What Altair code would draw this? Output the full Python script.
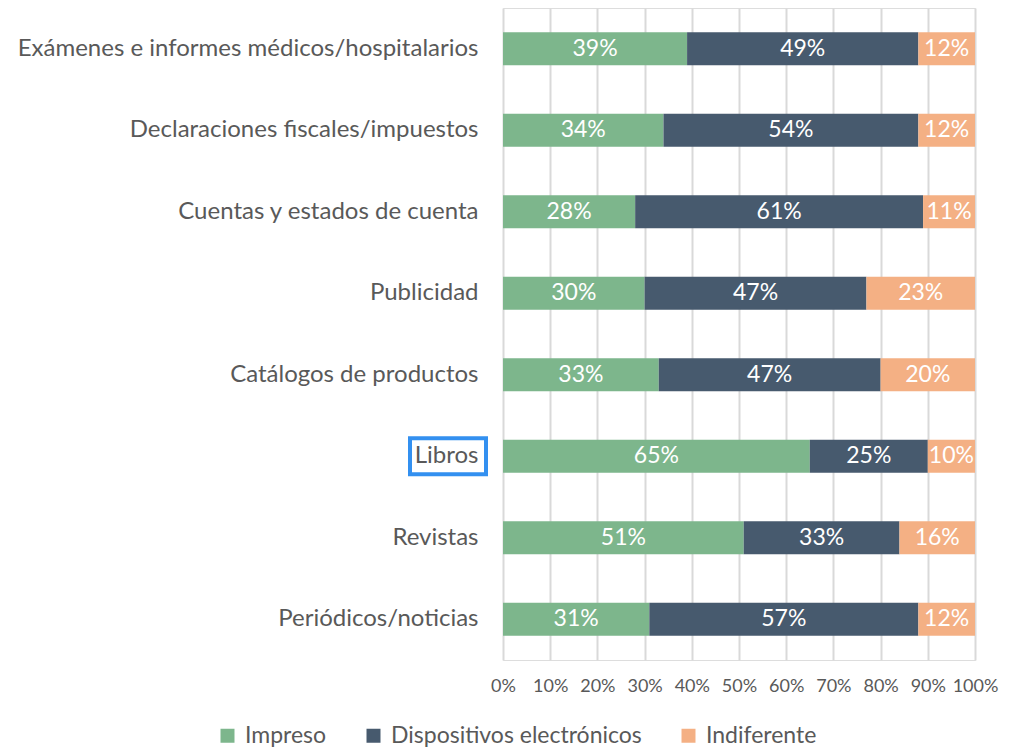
import altair as alt
import pandas as pd

categories = [
    "Exámenes e informes médicos/hospitalarios",
    "Declaraciones fiscales/impuestos",
    "Cuentas y estados de cuenta",
    "Publicidad ",
    "Catálogos de productos",
    "Libros",
    "Revistas",
    "Periódicos/noticias",
]
series = ["Impreso", "Dispositivos electrónicos", "Indiferente"]
impreso = [39, 34, 28, 30, 33, 65, 51, 31]
dispositivos = [49, 54, 61, 47, 47, 25, 33, 57]
indiferente = [12, 12, 11, 23, 20, 10, 16, 12]
colors = ["#7DB68C", "#475A6E", "#F4B084"]
highlight = "Libros"

rows = []
for i, c in enumerate(categories):
    for j, (s, vals) in enumerate(zip(series, [impreso, dispositivos, indiferente])):
        rows.append({"cat": c, "serie": s, "ord": j, "val": vals[i] / 100})
df = pd.DataFrame(rows)

FONT = "Lato"
GRAY = "#595959"

y_enc = alt.Y(
    "cat:N",
    sort=categories,
    scale=alt.Scale(paddingInner=0, paddingOuter=0),
    axis=alt.Axis(
        title=None, domain=False, ticks=False, labelPadding=25,
        labelFontSize=24, labelColor=GRAY, labelFont=FONT, labelLimit=600,
        minExtent=495, maxExtent=495,
    ),
)

base = alt.Chart(df).transform_stack(
    stack="val", groupby=["cat"], as_=["x0", "x1"], sort=[alt.SortField("ord")]
).transform_calculate(mid="(datum.x0 + datum.x1) / 2")

xscale = alt.Scale(domain=[0, 1], nice=False)

bars = base.mark_bar(size=33).encode(
    x=alt.X(
        "x0:Q", scale=xscale,
        axis=alt.Axis(
            title=None, format=".0%", values=[i / 10 for i in range(11)],
            domain=False, ticks=False, grid=True, gridColor="#D9D9D9", gridWidth=2,
            labelFontSize=18, labelColor=GRAY, labelFont=FONT, labelPadding=17,
            labelOverlap=False, labelFlush=False,
        ),
    ),
    x2="x1:Q",
    y=y_enc,
    color=alt.Color(
        "serie:N",
        scale=alt.Scale(domain=series, range=colors),
        legend=alt.Legend(
            title=None, orient="none", direction="horizontal",
            legendX=-287, legendY=716, padding=0,
            symbolType="square", symbolSize=196, symbolStrokeWidth=0,
            labelFontSize=23, labelColor=GRAY, labelFont=FONT, labelLimit=0,
            columnPadding=35, labelOffset=6,
        ),
    ),
    order=alt.Order("ord:Q"),
)

labels = base.mark_text(color="white", fontSize=23, font=FONT).encode(
    x=alt.X("mid:Q", scale=xscale),
    y=y_enc,
    text=alt.Text("val:Q", format=".0%"),
)

box = alt.Chart(pd.DataFrame({"cat": [highlight]})).mark_bar(
    size=36, fillOpacity=0, stroke="#3390F0", strokeWidth=4
).encode(
    x=alt.value(-93), x2=alt.value(-17), y=y_enc,
)

chart = alt.layer(bars, labels, box).properties(
    width=472, height=652,
    padding={"left": 0, "top": 0, "right": 5, "bottom": 0},
).configure_view(stroke=None).configure(font=FONT)

chart.save("out.html", embed_options={"renderer": "svg", "actions": False})
